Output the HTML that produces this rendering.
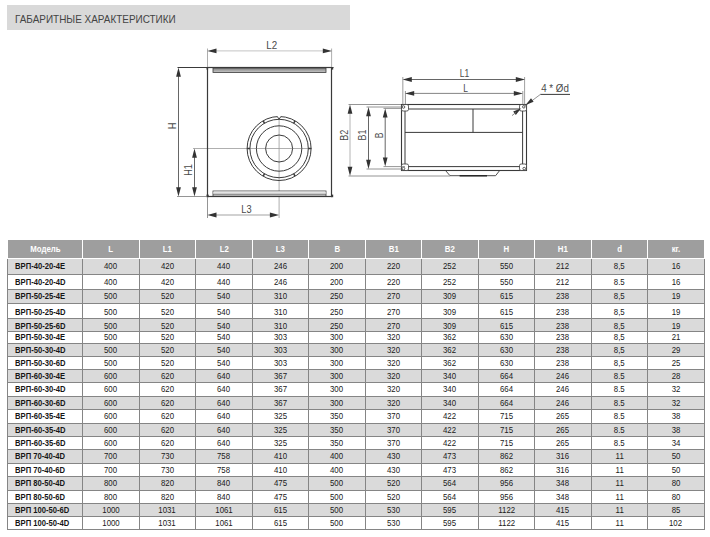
<!DOCTYPE html>
<html><head><meta charset="utf-8"><title>Габаритные характеристики</title>
<style>
html,body{margin:0;padding:0;background:#fff;}
body{width:710px;height:537px;position:relative;overflow:hidden;font-family:"Liberation Sans",sans-serif;}
.abs{position:absolute;}
#title{left:7px;top:5px;width:343px;height:25px;background:#d9d9d9;}
#title span{position:absolute;left:7.6px;top:8.3px;font-size:10.4px;line-height:14px;color:#444;white-space:nowrap;transform-origin:0 50%;transform:scaleX(0.957);display:inline-block;}
.hc{position:absolute;top:240px;height:18px;background:#9e9e9e;color:#fff;font-weight:bold;font-size:9px;line-height:18px;text-align:center;}
.row{position:absolute;left:7px;width:698px;}
.row.odd{background:#dadada;}
.c{position:absolute;top:0;bottom:0;font-size:9px;color:#202020;text-align:center;white-space:nowrap;}
.c.m{font-weight:bold;text-align:left;color:#161616;}
.c span,.hc span{display:inline-block;transform:scale(0.87,1.08);transform-origin:50% 75%;}
.c.m span{transform-origin:0 75%;transform:scale(0.85,1.08);}
.vl{position:absolute;width:1px;background:#858585;top:259px;height:271px;}
.hl{position:absolute;left:7px;width:698px;height:1px;background:#858585;}
svg{position:absolute;left:0;top:0;}
svg text{font-family:"Liberation Sans",sans-serif;fill:#4a4a4a;}
</style></head><body>
<div id="title" class="abs"><span>ГАБАРИТНЫЕ ХАРАКТЕРИСТИКИ</span></div>
<svg width="710" height="240" viewBox="0 0 710 240">
<defs><linearGradient id="bar" x1="0" y1="0" x2="0" y2="1"><stop offset="0" stop-color="#808080"/><stop offset="1" stop-color="#c8c8c8"/></linearGradient></defs>
<line x1="193.0" y1="148.5" x2="312.0" y2="148.5" stroke="#9a9a9a" stroke-width="0.8"/>
<line x1="279.1" y1="116.0" x2="279.1" y2="218.0" stroke="#9a9a9a" stroke-width="0.8"/>
<rect x="207.5" y="67.5" width="124" height="129" fill="none" stroke="#3a3a3a" stroke-width="1.2"/>
<line x1="177.5" y1="67.5" x2="333.5" y2="67.5" stroke="#3a3a3a" stroke-width="1.2"/>
<rect x="213" y="68" width="113" height="4.5" fill="url(#bar)" stroke="#3a3a3a" stroke-width="0.8"/>
<rect x="213" y="191" width="113" height="5" fill="#fff" stroke="#3a3a3a" stroke-width="0.8"/>
<rect x="213.4" y="191.6" width="112.2" height="2.4" fill="#e4e4e4"/>
<line x1="213.0" y1="194.3" x2="326.0" y2="194.3" stroke="#555" stroke-width="0.8"/>
<rect x="331" y="67" width="2.2" height="2.6" fill="#3a3a3a"/>
<rect x="206.5" y="67" width="1.6" height="2.6" fill="#3a3a3a"/>
<rect x="331" y="194.6" width="2.2" height="2.6" fill="#3a3a3a"/>
<rect x="206.5" y="194.6" width="2.2" height="2.6" fill="#3a3a3a"/>
<circle cx="279.1" cy="148.5" r="32.0" fill="none" stroke="#3a3a3a" stroke-width="1"/>
<circle cx="279.1" cy="148.5" r="29.2" fill="none" stroke="#3a3a3a" stroke-width="1"/>
<circle cx="279.1" cy="148.5" r="22.7" fill="none" stroke="#3a3a3a" stroke-width="1"/>
<circle cx="279.1" cy="148.5" r="13.5" fill="none" stroke="#3a3a3a" stroke-width="1"/>
<rect x="277.5" y="115.3" width="3.2" height="2.4" fill="#fff"/>
<polyline points="277.2,116.5 279.1,119.1 281.0,116.5" fill="none" stroke="#3a3a3a" stroke-width="0.9"/>
<line x1="308.3" y1="148.5" x2="311.1" y2="148.5" stroke="#3a3a3a" stroke-width="1.5"/>
<line x1="293.7" y1="123.2" x2="295.1" y2="120.8" stroke="#3a3a3a" stroke-width="1.5"/>
<line x1="264.5" y1="123.2" x2="263.1" y2="120.8" stroke="#3a3a3a" stroke-width="1.5"/>
<line x1="249.9" y1="148.5" x2="247.1" y2="148.5" stroke="#3a3a3a" stroke-width="1.5"/>
<line x1="264.5" y1="173.8" x2="263.1" y2="176.2" stroke="#3a3a3a" stroke-width="1.5"/>
<line x1="293.7" y1="173.8" x2="295.1" y2="176.2" stroke="#3a3a3a" stroke-width="1.5"/>
<line x1="207.5" y1="48.5" x2="207.5" y2="67.0" stroke="#999" stroke-width="0.8"/>
<line x1="331.6" y1="48.5" x2="331.6" y2="67.0" stroke="#999" stroke-width="0.8"/>
<line x1="211.3" y1="50.9" x2="328.0" y2="50.9" stroke="#c4c4c4" stroke-width="1"/>
<polygon points="207.3,50.9 216.5,48.5 216.5,53.3" fill="#333"/>
<polygon points="332.0,50.9 322.8,53.3 322.8,48.5" fill="#333"/>
<text x="271.8" y="48.6" font-size="10.3" text-anchor="middle" textLength="10.9" lengthAdjust="spacingAndGlyphs">L2</text>
<line x1="178.5" y1="71.5" x2="178.5" y2="192.5" stroke="#555" stroke-width="0.9"/>
<polygon points="178.5,67.5 180.9,76.7 176.1,76.7" fill="#333"/>
<polygon points="178.5,196.5 176.1,187.3 180.9,187.3" fill="#333"/>
<line x1="177.0" y1="196.5" x2="207.0" y2="196.5" stroke="#7a7a7a" stroke-width="0.8"/>
<line x1="194.5" y1="152.5" x2="194.5" y2="192.5" stroke="#555" stroke-width="0.9"/>
<polygon points="194.5,148.5 196.9,157.7 192.1,157.7" fill="#333"/>
<polygon points="194.5,196.5 192.1,187.3 196.9,187.3" fill="#333"/>
<line x1="207.5" y1="197.0" x2="207.5" y2="218.0" stroke="#7a7a7a" stroke-width="0.8"/>
<line x1="211.3" y1="215.0" x2="275.1" y2="215.0" stroke="#999" stroke-width="0.9"/>
<polygon points="207.3,215.0 216.5,212.6 216.5,217.4" fill="#333"/>
<polygon points="279.1,215.0 269.9,217.4 269.9,212.6" fill="#333"/>
<text x="246.5" y="212.6" font-size="10.3" text-anchor="middle" textLength="10.3" lengthAdjust="spacingAndGlyphs">L3</text>
<text transform="translate(176.0,126.0) rotate(-90)" x="0" y="0" font-size="10.3" text-anchor="middle" textLength="6.7" lengthAdjust="spacingAndGlyphs">H</text>
<text transform="translate(191.6,170.0) rotate(-90)" x="0" y="0" font-size="10.3" text-anchor="middle" textLength="11.7" lengthAdjust="spacingAndGlyphs">H1</text>
<rect x="401.5" y="104.5" width="125" height="66" fill="none" stroke="#3a3a3a" stroke-width="1.1"/>
<rect x="405" y="109" width="117.6" height="57.6" fill="none" stroke="#3a3a3a" stroke-width="1"/>
<line x1="405.0" y1="132.4" x2="522.6" y2="132.4" stroke="#3a3a3a" stroke-width="1"/>
<line x1="473.0" y1="109.0" x2="473.0" y2="132.4" stroke="#3a3a3a" stroke-width="1"/>
<rect x="401.5" y="104.5" width="7" height="6.5" rx="1.6" fill="#fff" stroke="#3a3a3a" stroke-width="0.8"/>
<circle cx="403.5" cy="107.0" r="1.3" fill="#fff" stroke="#3a3a3a" stroke-width="0.8"/>
<rect x="519.5" y="104.5" width="7" height="6.5" rx="1.6" fill="#fff" stroke="#3a3a3a" stroke-width="0.8"/>
<circle cx="523.8" cy="106.8" r="1.3" fill="#fff" stroke="#3a3a3a" stroke-width="0.8"/>
<rect x="401.5" y="164.0" width="7" height="6.5" rx="1.6" fill="#fff" stroke="#3a3a3a" stroke-width="0.8"/>
<circle cx="403.5" cy="168.6" r="1.3" fill="#fff" stroke="#3a3a3a" stroke-width="0.8"/>
<rect x="519.5" y="164.0" width="7" height="6.5" rx="1.6" fill="#fff" stroke="#3a3a3a" stroke-width="0.8"/>
<circle cx="524.2" cy="168.6" r="1.3" fill="#fff" stroke="#3a3a3a" stroke-width="0.8"/>
<polyline points="445.6,170.6 450,175.7 495.6,175.7 499.6,170.6" fill="none" stroke="#3a3a3a" stroke-width="0.9"/>
<line x1="459.6" y1="175.8" x2="487.0" y2="175.8" stroke="#222" stroke-width="1.4"/>
<line x1="402.8" y1="77.0" x2="402.8" y2="104.0" stroke="#aaa" stroke-width="1.2"/>
<line x1="524.6" y1="77.0" x2="524.6" y2="104.0" stroke="#888" stroke-width="0.8"/>
<line x1="406.6" y1="79.5" x2="521.0" y2="79.5" stroke="#555" stroke-width="0.9"/>
<polygon points="402.6,79.5 411.8,77.1 411.8,81.9" fill="#333"/>
<polygon points="525.0,79.5 515.8,81.9 515.8,77.1" fill="#333"/>
<line x1="405.4" y1="91.0" x2="405.4" y2="104.0" stroke="#777" stroke-width="0.8"/>
<line x1="522.8" y1="91.0" x2="522.8" y2="104.0" stroke="#888" stroke-width="0.8"/>
<line x1="409.0" y1="93.4" x2="519.0" y2="93.4" stroke="#777" stroke-width="0.9"/>
<polygon points="405.0,93.4 414.2,91.0 414.2,95.8" fill="#333"/>
<polygon points="523.0,93.4 513.8,95.8 513.8,91.0" fill="#333"/>
<text x="464.5" y="77.0" font-size="10.3" text-anchor="middle" textLength="9.5" lengthAdjust="spacingAndGlyphs">L1</text>
<text x="465.6" y="91.6" font-size="10.3" text-anchor="middle" textLength="4.7" lengthAdjust="spacingAndGlyphs">L</text>
<line x1="348.5" y1="104.5" x2="401.0" y2="104.5" stroke="#7a7a7a" stroke-width="0.8"/>
<line x1="348.5" y1="176.0" x2="450.0" y2="176.0" stroke="#7a7a7a" stroke-width="0.8"/>
<line x1="350.0" y1="108.5" x2="350.0" y2="172.0" stroke="#b4b4b4" stroke-width="1"/>
<polygon points="350.0,104.5 352.4,113.7 347.6,113.7" fill="#333"/>
<polygon points="350.0,176.0 347.6,166.8 352.4,166.8" fill="#333"/>
<line x1="366.5" y1="107.0" x2="401.0" y2="107.0" stroke="#7a7a7a" stroke-width="0.8"/>
<line x1="366.5" y1="169.0" x2="401.0" y2="169.0" stroke="#7a7a7a" stroke-width="0.8"/>
<line x1="368.5" y1="111.0" x2="368.5" y2="165.0" stroke="#555" stroke-width="0.9"/>
<polygon points="368.5,107.0 370.9,116.2 366.1,116.2" fill="#333"/>
<polygon points="368.5,169.0 366.1,159.8 370.9,159.8" fill="#333"/>
<line x1="383.5" y1="108.4" x2="401.0" y2="108.4" stroke="#7a7a7a" stroke-width="0.8"/>
<line x1="383.5" y1="166.6" x2="405.0" y2="166.6" stroke="#7a7a7a" stroke-width="0.8"/>
<line x1="385.2" y1="112.4" x2="385.2" y2="162.6" stroke="#555" stroke-width="0.9"/>
<polygon points="385.2,108.4 387.6,117.6 382.8,117.6" fill="#333"/>
<polygon points="385.2,166.6 382.8,157.4 387.6,157.4" fill="#333"/>
<text transform="translate(348.2,135.3) rotate(-90)" x="0" y="0" font-size="10.3" text-anchor="middle" textLength="11.1" lengthAdjust="spacingAndGlyphs">B2</text>
<text transform="translate(366.2,135.0) rotate(-90)" x="0" y="0" font-size="10.3" text-anchor="middle" textLength="10.9" lengthAdjust="spacingAndGlyphs">B1</text>
<text transform="translate(383.4,135.5) rotate(-90)" x="0" y="0" font-size="10.3" text-anchor="middle" textLength="5.7" lengthAdjust="spacingAndGlyphs">B</text>
<line x1="523.6" y1="107.0" x2="540.4" y2="94.4" stroke="#7a7a7a" stroke-width="0.8"/>
<line x1="540.4" y1="94.4" x2="570.0" y2="94.4" stroke="#3a3a3a" stroke-width="1"/>
<polygon points="525.6,105.0 531.0,98.2 533.6,101.7" fill="#333"/>
<polygon points="521.2,108.2 515.8,115.0 513.2,111.5" fill="#333"/>
<line x1="512.0" y1="115.6" x2="516.0" y2="112.4" stroke="#7a7a7a" stroke-width="0.9"/>
<text x="555.0" y="92.0" font-size="10.3" text-anchor="middle" textLength="27.7" lengthAdjust="spacingAndGlyphs">4 * Ød</text>
</svg>
<div class="hc" style="left:8px;width:74px"><span>Модель</span></div>
<div class="hc" style="left:83px;width:56px"><span>L</span></div>
<div class="hc" style="left:140px;width:55px"><span>L1</span></div>
<div class="hc" style="left:196px;width:56px"><span>L2</span></div>
<div class="hc" style="left:253px;width:55px"><span>L3</span></div>
<div class="hc" style="left:309px;width:56px"><span>B</span></div>
<div class="hc" style="left:366px;width:55px"><span>B1</span></div>
<div class="hc" style="left:422px;width:56px"><span>B2</span></div>
<div class="hc" style="left:479px;width:55px"><span>H</span></div>
<div class="hc" style="left:535px;width:56px"><span>H1</span></div>
<div class="hc" style="left:592px;width:55px"><span>d</span></div>
<div class="hc" style="left:648px;width:56px"><span>кг.</span></div>
<div class="row odd" style="top:259px;height:15px"><div class="c m" style="left:1px;width:67px;line-height:15px;padding-left:7px"><span>ВРП-40-20-4E</span></div><div class="c" style="left:76px;width:56px;line-height:15px"><span>400</span></div><div class="c" style="left:133px;width:55px;line-height:15px"><span>420</span></div><div class="c" style="left:189px;width:56px;line-height:15px"><span>440</span></div><div class="c" style="left:246px;width:55px;line-height:15px"><span>246</span></div><div class="c" style="left:302px;width:56px;line-height:15px"><span>200</span></div><div class="c" style="left:359px;width:55px;line-height:15px"><span>220</span></div><div class="c" style="left:415px;width:56px;line-height:15px"><span>252</span></div><div class="c" style="left:472px;width:55px;line-height:15px"><span>550</span></div><div class="c" style="left:528px;width:56px;line-height:15px"><span>212</span></div><div class="c" style="left:585px;width:55px;line-height:15px"><span>8,5</span></div><div class="c" style="left:641px;width:56px;line-height:15px"><span>16</span></div></div>
<div class="row" style="top:275px;height:14px"><div class="c m" style="left:1px;width:67px;line-height:14px;padding-left:7px"><span>ВРП-40-20-4D</span></div><div class="c" style="left:76px;width:56px;line-height:14px"><span>400</span></div><div class="c" style="left:133px;width:55px;line-height:14px"><span>420</span></div><div class="c" style="left:189px;width:56px;line-height:14px"><span>440</span></div><div class="c" style="left:246px;width:55px;line-height:14px"><span>246</span></div><div class="c" style="left:302px;width:56px;line-height:14px"><span>200</span></div><div class="c" style="left:359px;width:55px;line-height:14px"><span>220</span></div><div class="c" style="left:415px;width:56px;line-height:14px"><span>252</span></div><div class="c" style="left:472px;width:55px;line-height:14px"><span>550</span></div><div class="c" style="left:528px;width:56px;line-height:14px"><span>212</span></div><div class="c" style="left:585px;width:55px;line-height:14px"><span>8.5</span></div><div class="c" style="left:641px;width:56px;line-height:14px"><span>16</span></div></div>
<div class="row odd" style="top:290px;height:13px"><div class="c m" style="left:1px;width:67px;line-height:13px;padding-left:7px"><span>ВРП-50-25-4E</span></div><div class="c" style="left:76px;width:56px;line-height:13px"><span>500</span></div><div class="c" style="left:133px;width:55px;line-height:13px"><span>520</span></div><div class="c" style="left:189px;width:56px;line-height:13px"><span>540</span></div><div class="c" style="left:246px;width:55px;line-height:13px"><span>310</span></div><div class="c" style="left:302px;width:56px;line-height:13px"><span>250</span></div><div class="c" style="left:359px;width:55px;line-height:13px"><span>270</span></div><div class="c" style="left:415px;width:56px;line-height:13px"><span>309</span></div><div class="c" style="left:472px;width:55px;line-height:13px"><span>615</span></div><div class="c" style="left:528px;width:56px;line-height:13px"><span>238</span></div><div class="c" style="left:585px;width:55px;line-height:13px"><span>8,5</span></div><div class="c" style="left:641px;width:56px;line-height:13px"><span>19</span></div></div>
<div class="row" style="top:304px;height:14px"><div class="c m" style="left:1px;width:67px;line-height:16px;padding-left:7px"><span>ВРП-50-25-4D</span></div><div class="c" style="left:76px;width:56px;line-height:16px"><span>500</span></div><div class="c" style="left:133px;width:55px;line-height:16px"><span>520</span></div><div class="c" style="left:189px;width:56px;line-height:16px"><span>540</span></div><div class="c" style="left:246px;width:55px;line-height:16px"><span>310</span></div><div class="c" style="left:302px;width:56px;line-height:16px"><span>250</span></div><div class="c" style="left:359px;width:55px;line-height:16px"><span>270</span></div><div class="c" style="left:415px;width:56px;line-height:16px"><span>309</span></div><div class="c" style="left:472px;width:55px;line-height:16px"><span>615</span></div><div class="c" style="left:528px;width:56px;line-height:16px"><span>238</span></div><div class="c" style="left:585px;width:55px;line-height:16px"><span>8,5</span></div><div class="c" style="left:641px;width:56px;line-height:16px"><span>19</span></div></div>
<div class="row odd" style="top:319px;height:12px"><div class="c m" style="left:1px;width:67px;line-height:14px;padding-left:7px"><span>ВРП-50-25-6D</span></div><div class="c" style="left:76px;width:56px;line-height:14px"><span>500</span></div><div class="c" style="left:133px;width:55px;line-height:14px"><span>520</span></div><div class="c" style="left:189px;width:56px;line-height:14px"><span>540</span></div><div class="c" style="left:246px;width:55px;line-height:14px"><span>310</span></div><div class="c" style="left:302px;width:56px;line-height:14px"><span>250</span></div><div class="c" style="left:359px;width:55px;line-height:14px"><span>270</span></div><div class="c" style="left:415px;width:56px;line-height:14px"><span>309</span></div><div class="c" style="left:472px;width:55px;line-height:14px"><span>615</span></div><div class="c" style="left:528px;width:56px;line-height:14px"><span>238</span></div><div class="c" style="left:585px;width:55px;line-height:14px"><span>8,5</span></div><div class="c" style="left:641px;width:56px;line-height:14px"><span>19</span></div></div>
<div class="row" style="top:332px;height:11px"><div class="c m" style="left:1px;width:67px;line-height:11px;padding-left:7px"><span>ВРП-50-30-4E</span></div><div class="c" style="left:76px;width:56px;line-height:11px"><span>500</span></div><div class="c" style="left:133px;width:55px;line-height:11px"><span>520</span></div><div class="c" style="left:189px;width:56px;line-height:11px"><span>540</span></div><div class="c" style="left:246px;width:55px;line-height:11px"><span>303</span></div><div class="c" style="left:302px;width:56px;line-height:11px"><span>300</span></div><div class="c" style="left:359px;width:55px;line-height:11px"><span>320</span></div><div class="c" style="left:415px;width:56px;line-height:11px"><span>362</span></div><div class="c" style="left:472px;width:55px;line-height:11px"><span>630</span></div><div class="c" style="left:528px;width:56px;line-height:11px"><span>238</span></div><div class="c" style="left:585px;width:55px;line-height:11px"><span>8,5</span></div><div class="c" style="left:641px;width:56px;line-height:11px"><span>21</span></div></div>
<div class="row odd" style="top:344px;height:12px"><div class="c m" style="left:1px;width:67px;line-height:12px;padding-left:7px"><span>ВРП-50-30-4D</span></div><div class="c" style="left:76px;width:56px;line-height:12px"><span>500</span></div><div class="c" style="left:133px;width:55px;line-height:12px"><span>520</span></div><div class="c" style="left:189px;width:56px;line-height:12px"><span>540</span></div><div class="c" style="left:246px;width:55px;line-height:12px"><span>303</span></div><div class="c" style="left:302px;width:56px;line-height:12px"><span>300</span></div><div class="c" style="left:359px;width:55px;line-height:12px"><span>320</span></div><div class="c" style="left:415px;width:56px;line-height:12px"><span>362</span></div><div class="c" style="left:472px;width:55px;line-height:12px"><span>630</span></div><div class="c" style="left:528px;width:56px;line-height:12px"><span>238</span></div><div class="c" style="left:585px;width:55px;line-height:12px"><span>8,5</span></div><div class="c" style="left:641px;width:56px;line-height:12px"><span>29</span></div></div>
<div class="row" style="top:357px;height:12px"><div class="c m" style="left:1px;width:67px;line-height:12px;padding-left:7px"><span>ВРП-50-30-6D</span></div><div class="c" style="left:76px;width:56px;line-height:12px"><span>500</span></div><div class="c" style="left:133px;width:55px;line-height:12px"><span>520</span></div><div class="c" style="left:189px;width:56px;line-height:12px"><span>540</span></div><div class="c" style="left:246px;width:55px;line-height:12px"><span>303</span></div><div class="c" style="left:302px;width:56px;line-height:12px"><span>300</span></div><div class="c" style="left:359px;width:55px;line-height:12px"><span>320</span></div><div class="c" style="left:415px;width:56px;line-height:12px"><span>362</span></div><div class="c" style="left:472px;width:55px;line-height:12px"><span>630</span></div><div class="c" style="left:528px;width:56px;line-height:12px"><span>238</span></div><div class="c" style="left:585px;width:55px;line-height:12px"><span>8,5</span></div><div class="c" style="left:641px;width:56px;line-height:12px"><span>25</span></div></div>
<div class="row odd" style="top:370px;height:12px"><div class="c m" style="left:1px;width:67px;line-height:12px;padding-left:7px"><span>ВРП-60-30-4E</span></div><div class="c" style="left:76px;width:56px;line-height:12px"><span>600</span></div><div class="c" style="left:133px;width:55px;line-height:12px"><span>620</span></div><div class="c" style="left:189px;width:56px;line-height:12px"><span>640</span></div><div class="c" style="left:246px;width:55px;line-height:12px"><span>367</span></div><div class="c" style="left:302px;width:56px;line-height:12px"><span>300</span></div><div class="c" style="left:359px;width:55px;line-height:12px"><span>320</span></div><div class="c" style="left:415px;width:56px;line-height:12px"><span>340</span></div><div class="c" style="left:472px;width:55px;line-height:12px"><span>664</span></div><div class="c" style="left:528px;width:56px;line-height:12px"><span>246</span></div><div class="c" style="left:585px;width:55px;line-height:12px"><span>8.5</span></div><div class="c" style="left:641px;width:56px;line-height:12px"><span>28</span></div></div>
<div class="row" style="top:383px;height:13px"><div class="c m" style="left:1px;width:67px;line-height:13px;padding-left:7px"><span>ВРП-60-30-4D</span></div><div class="c" style="left:76px;width:56px;line-height:13px"><span>600</span></div><div class="c" style="left:133px;width:55px;line-height:13px"><span>620</span></div><div class="c" style="left:189px;width:56px;line-height:13px"><span>640</span></div><div class="c" style="left:246px;width:55px;line-height:13px"><span>367</span></div><div class="c" style="left:302px;width:56px;line-height:13px"><span>300</span></div><div class="c" style="left:359px;width:55px;line-height:13px"><span>320</span></div><div class="c" style="left:415px;width:56px;line-height:13px"><span>340</span></div><div class="c" style="left:472px;width:55px;line-height:13px"><span>664</span></div><div class="c" style="left:528px;width:56px;line-height:13px"><span>246</span></div><div class="c" style="left:585px;width:55px;line-height:13px"><span>8.5</span></div><div class="c" style="left:641px;width:56px;line-height:13px"><span>32</span></div></div>
<div class="row odd" style="top:397px;height:12px"><div class="c m" style="left:1px;width:67px;line-height:12px;padding-left:7px"><span>ВРП-60-30-6D</span></div><div class="c" style="left:76px;width:56px;line-height:12px"><span>600</span></div><div class="c" style="left:133px;width:55px;line-height:12px"><span>620</span></div><div class="c" style="left:189px;width:56px;line-height:12px"><span>640</span></div><div class="c" style="left:246px;width:55px;line-height:12px"><span>367</span></div><div class="c" style="left:302px;width:56px;line-height:12px"><span>300</span></div><div class="c" style="left:359px;width:55px;line-height:12px"><span>320</span></div><div class="c" style="left:415px;width:56px;line-height:12px"><span>340</span></div><div class="c" style="left:472px;width:55px;line-height:12px"><span>664</span></div><div class="c" style="left:528px;width:56px;line-height:12px"><span>246</span></div><div class="c" style="left:585px;width:55px;line-height:12px"><span>8.5</span></div><div class="c" style="left:641px;width:56px;line-height:12px"><span>32</span></div></div>
<div class="row" style="top:410px;height:13px"><div class="c m" style="left:1px;width:67px;line-height:13px;padding-left:7px"><span>ВРП-60-35-4E</span></div><div class="c" style="left:76px;width:56px;line-height:13px"><span>600</span></div><div class="c" style="left:133px;width:55px;line-height:13px"><span>620</span></div><div class="c" style="left:189px;width:56px;line-height:13px"><span>640</span></div><div class="c" style="left:246px;width:55px;line-height:13px"><span>325</span></div><div class="c" style="left:302px;width:56px;line-height:13px"><span>350</span></div><div class="c" style="left:359px;width:55px;line-height:13px"><span>370</span></div><div class="c" style="left:415px;width:56px;line-height:13px"><span>422</span></div><div class="c" style="left:472px;width:55px;line-height:13px"><span>715</span></div><div class="c" style="left:528px;width:56px;line-height:13px"><span>265</span></div><div class="c" style="left:585px;width:55px;line-height:13px"><span>8.5</span></div><div class="c" style="left:641px;width:56px;line-height:13px"><span>38</span></div></div>
<div class="row odd" style="top:424px;height:12px"><div class="c m" style="left:1px;width:67px;line-height:12px;padding-left:7px"><span>ВРП-60-35-4D</span></div><div class="c" style="left:76px;width:56px;line-height:12px"><span>600</span></div><div class="c" style="left:133px;width:55px;line-height:12px"><span>620</span></div><div class="c" style="left:189px;width:56px;line-height:12px"><span>640</span></div><div class="c" style="left:246px;width:55px;line-height:12px"><span>325</span></div><div class="c" style="left:302px;width:56px;line-height:12px"><span>350</span></div><div class="c" style="left:359px;width:55px;line-height:12px"><span>370</span></div><div class="c" style="left:415px;width:56px;line-height:12px"><span>422</span></div><div class="c" style="left:472px;width:55px;line-height:12px"><span>715</span></div><div class="c" style="left:528px;width:56px;line-height:12px"><span>265</span></div><div class="c" style="left:585px;width:55px;line-height:12px"><span>8.5</span></div><div class="c" style="left:641px;width:56px;line-height:12px"><span>38</span></div></div>
<div class="row" style="top:437px;height:12px"><div class="c m" style="left:1px;width:67px;line-height:12px;padding-left:7px"><span>ВРП-60-35-6D</span></div><div class="c" style="left:76px;width:56px;line-height:12px"><span>600</span></div><div class="c" style="left:133px;width:55px;line-height:12px"><span>620</span></div><div class="c" style="left:189px;width:56px;line-height:12px"><span>640</span></div><div class="c" style="left:246px;width:55px;line-height:12px"><span>325</span></div><div class="c" style="left:302px;width:56px;line-height:12px"><span>350</span></div><div class="c" style="left:359px;width:55px;line-height:12px"><span>370</span></div><div class="c" style="left:415px;width:56px;line-height:12px"><span>422</span></div><div class="c" style="left:472px;width:55px;line-height:12px"><span>715</span></div><div class="c" style="left:528px;width:56px;line-height:12px"><span>265</span></div><div class="c" style="left:585px;width:55px;line-height:12px"><span>8.5</span></div><div class="c" style="left:641px;width:56px;line-height:12px"><span>34</span></div></div>
<div class="row odd" style="top:450px;height:13px"><div class="c m" style="left:1px;width:67px;line-height:13px;padding-left:7px"><span>ВРП 70-40-4D</span></div><div class="c" style="left:76px;width:56px;line-height:13px"><span>700</span></div><div class="c" style="left:133px;width:55px;line-height:13px"><span>730</span></div><div class="c" style="left:189px;width:56px;line-height:13px"><span>758</span></div><div class="c" style="left:246px;width:55px;line-height:13px"><span>410</span></div><div class="c" style="left:302px;width:56px;line-height:13px"><span>400</span></div><div class="c" style="left:359px;width:55px;line-height:13px"><span>430</span></div><div class="c" style="left:415px;width:56px;line-height:13px"><span>473</span></div><div class="c" style="left:472px;width:55px;line-height:13px"><span>862</span></div><div class="c" style="left:528px;width:56px;line-height:13px"><span>316</span></div><div class="c" style="left:585px;width:55px;line-height:13px"><span>11</span></div><div class="c" style="left:641px;width:56px;line-height:13px"><span>50</span></div></div>
<div class="row" style="top:464px;height:12px"><div class="c m" style="left:1px;width:67px;line-height:12px;padding-left:7px"><span>ВРП 70-40-6D</span></div><div class="c" style="left:76px;width:56px;line-height:12px"><span>700</span></div><div class="c" style="left:133px;width:55px;line-height:12px"><span>730</span></div><div class="c" style="left:189px;width:56px;line-height:12px"><span>758</span></div><div class="c" style="left:246px;width:55px;line-height:12px"><span>410</span></div><div class="c" style="left:302px;width:56px;line-height:12px"><span>400</span></div><div class="c" style="left:359px;width:55px;line-height:12px"><span>430</span></div><div class="c" style="left:415px;width:56px;line-height:12px"><span>473</span></div><div class="c" style="left:472px;width:55px;line-height:12px"><span>862</span></div><div class="c" style="left:528px;width:56px;line-height:12px"><span>316</span></div><div class="c" style="left:585px;width:55px;line-height:12px"><span>11</span></div><div class="c" style="left:641px;width:56px;line-height:12px"><span>50</span></div></div>
<div class="row odd" style="top:477px;height:13px"><div class="c m" style="left:1px;width:67px;line-height:13px;padding-left:7px"><span>ВРП 80-50-4D</span></div><div class="c" style="left:76px;width:56px;line-height:13px"><span>800</span></div><div class="c" style="left:133px;width:55px;line-height:13px"><span>820</span></div><div class="c" style="left:189px;width:56px;line-height:13px"><span>840</span></div><div class="c" style="left:246px;width:55px;line-height:13px"><span>475</span></div><div class="c" style="left:302px;width:56px;line-height:13px"><span>500</span></div><div class="c" style="left:359px;width:55px;line-height:13px"><span>520</span></div><div class="c" style="left:415px;width:56px;line-height:13px"><span>564</span></div><div class="c" style="left:472px;width:55px;line-height:13px"><span>956</span></div><div class="c" style="left:528px;width:56px;line-height:13px"><span>348</span></div><div class="c" style="left:585px;width:55px;line-height:13px"><span>11</span></div><div class="c" style="left:641px;width:56px;line-height:13px"><span>80</span></div></div>
<div class="row" style="top:491px;height:12px"><div class="c m" style="left:1px;width:67px;line-height:12px;padding-left:7px"><span>ВРП 80-50-6D</span></div><div class="c" style="left:76px;width:56px;line-height:12px"><span>800</span></div><div class="c" style="left:133px;width:55px;line-height:12px"><span>820</span></div><div class="c" style="left:189px;width:56px;line-height:12px"><span>840</span></div><div class="c" style="left:246px;width:55px;line-height:12px"><span>475</span></div><div class="c" style="left:302px;width:56px;line-height:12px"><span>500</span></div><div class="c" style="left:359px;width:55px;line-height:12px"><span>520</span></div><div class="c" style="left:415px;width:56px;line-height:12px"><span>564</span></div><div class="c" style="left:472px;width:55px;line-height:12px"><span>956</span></div><div class="c" style="left:528px;width:56px;line-height:12px"><span>348</span></div><div class="c" style="left:585px;width:55px;line-height:12px"><span>11</span></div><div class="c" style="left:641px;width:56px;line-height:12px"><span>80</span></div></div>
<div class="row odd" style="top:504px;height:12px"><div class="c m" style="left:1px;width:67px;line-height:12px;padding-left:7px"><span>ВРП 100-50-6D</span></div><div class="c" style="left:76px;width:56px;line-height:12px"><span>1000</span></div><div class="c" style="left:133px;width:55px;line-height:12px"><span>1031</span></div><div class="c" style="left:189px;width:56px;line-height:12px"><span>1061</span></div><div class="c" style="left:246px;width:55px;line-height:12px"><span>615</span></div><div class="c" style="left:302px;width:56px;line-height:12px"><span>500</span></div><div class="c" style="left:359px;width:55px;line-height:12px"><span>530</span></div><div class="c" style="left:415px;width:56px;line-height:12px"><span>595</span></div><div class="c" style="left:472px;width:55px;line-height:12px"><span>1122</span></div><div class="c" style="left:528px;width:56px;line-height:12px"><span>415</span></div><div class="c" style="left:585px;width:55px;line-height:12px"><span>11</span></div><div class="c" style="left:641px;width:56px;line-height:12px"><span>85</span></div></div>
<div class="row" style="top:517px;height:12px"><div class="c m" style="left:1px;width:67px;line-height:12px;padding-left:7px"><span>ВРП 100-50-4D</span></div><div class="c" style="left:76px;width:56px;line-height:12px"><span>1000</span></div><div class="c" style="left:133px;width:55px;line-height:12px"><span>1031</span></div><div class="c" style="left:189px;width:56px;line-height:12px"><span>1061</span></div><div class="c" style="left:246px;width:55px;line-height:12px"><span>615</span></div><div class="c" style="left:302px;width:56px;line-height:12px"><span>500</span></div><div class="c" style="left:359px;width:55px;line-height:12px"><span>530</span></div><div class="c" style="left:415px;width:56px;line-height:12px"><span>595</span></div><div class="c" style="left:472px;width:55px;line-height:12px"><span>1122</span></div><div class="c" style="left:528px;width:56px;line-height:12px"><span>415</span></div><div class="c" style="left:585px;width:55px;line-height:12px"><span>11</span></div><div class="c" style="left:641px;width:56px;line-height:12px"><span>102</span></div></div>
<div class="hl" style="top:274px"></div><div class="hl" style="top:289px"></div><div class="hl" style="top:303px"></div><div class="hl" style="top:318px"></div><div class="hl" style="top:331px"></div><div class="hl" style="top:343px"></div><div class="hl" style="top:356px"></div><div class="hl" style="top:369px"></div><div class="hl" style="top:382px"></div><div class="hl" style="top:396px"></div><div class="hl" style="top:409px"></div><div class="hl" style="top:423px"></div><div class="hl" style="top:436px"></div><div class="hl" style="top:449px"></div><div class="hl" style="top:463px"></div><div class="hl" style="top:476px"></div><div class="hl" style="top:490px"></div><div class="hl" style="top:503px"></div><div class="hl" style="top:516px"></div><div class="hl" style="top:529px"></div>
<div class="vl" style="left:7px"></div><div class="vl" style="left:82px"></div><div class="vl" style="left:139px"></div><div class="vl" style="left:195px"></div><div class="vl" style="left:252px"></div><div class="vl" style="left:308px"></div><div class="vl" style="left:365px"></div><div class="vl" style="left:421px"></div><div class="vl" style="left:478px"></div><div class="vl" style="left:534px"></div><div class="vl" style="left:591px"></div><div class="vl" style="left:647px"></div><div class="vl" style="left:704px"></div>
</body></html>
